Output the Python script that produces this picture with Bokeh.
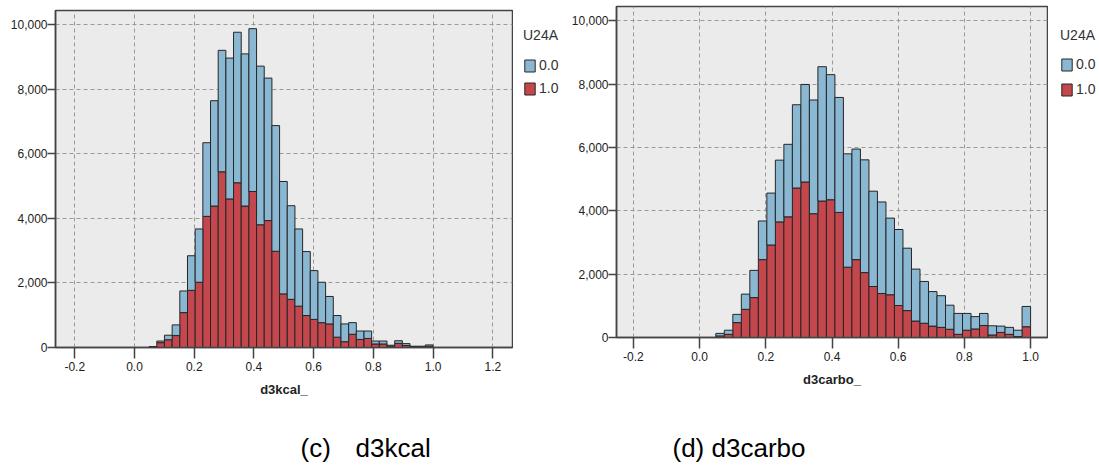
import numpy as np
from bokeh.plotting import figure
from bokeh.layouts import row, column
from bokeh.models import (ColumnDataSource, Range1d, FixedTicker, NumeralTickFormatter,
                          Legend, LegendItem, Label)
from bokeh.embed import file_html
from bokeh.resources import INLINE

# ---------------- data ----------------
group_title = "U24A"
group_labels = ["0.0", "1.0"]

bin_start = 0.049
bin_width = 0.0257

# (c) d3kcal : counts per bin for U24A = 0.0 and U24A = 1.0
kcal_n0 = [15, 50, 140, 330, 670, 1070, 1650, 2280, 3260, 3760, 4360, 4660, 4710, 5040, 4910,
           4410, 3890, 3480, 2900, 2390, 1980, 1510, 1250, 850, 670, 550, 360, 260, 230, 90,
           90, 30, 80, 60, 20, 20, 40]
kcal_n1 = [15, 150, 240, 370, 1080, 1770, 2020, 4060, 4380, 5440, 4600, 5100, 4380, 4830, 3800,
           3930, 2980, 1660, 1490, 1280, 990, 870, 770, 730, 320, 180, 410, 250, 280, 110,
           110, 40, 130, 60, 20, 20, 40]

# (d) d3carbo
carbo_n0 = [80, 130, 260, 480, 860, 1220, 1640, 1950, 2290, 2630, 3080, 3590, 4240, 3950, 3630,
            3580, 3490, 3560, 3010, 2890, 2420, 2400, 1970, 1640, 1320, 1090, 1000, 760, 660, 530,
            390, 380, 290, 200, 220, 200, 640]
carbo_n1 = [50, 100, 470, 890, 1260, 2460, 2920, 3650, 3810, 4720, 4910, 3910, 4310, 4350, 3950,
            2220, 2460, 2050, 1610, 1390, 1350, 1010, 850, 520, 450, 360, 320, 260, 100, 230,
            270, 380, 80, 160, 100, 30, 340]

kcal_xticks = [-0.2, 0.0, 0.2, 0.4, 0.6, 0.8, 1.0, 1.2]
carbo_xticks = [-0.2, 0.0, 0.2, 0.4, 0.6, 0.8, 1.0]
yticks = [0, 2000, 4000, 6000, 8000, 10000]

captions = ["(c)", "d3kcal", "(d) d3carbo"]

# ---------------- style ----------------
BLUE = "#8ab8d3"
RED = "#c4474d"
EDGE = "#262626"
FONT = "Liberation Sans"
TOP_H = 402


def make_chart(n0, n1, xticks, xlabel, width, mb_left, mb_right, mb_top,
               frame_h, xr, yr):
    n = len(n0)
    centers = [bin_start + bin_width * (i + 0.5) for i in range(n)]
    src = ColumnDataSource(dict(x=centers, n0=n0, n1=n1))
    p = figure(width=width, height=TOP_H, output_backend="svg", toolbar_location=None,
               x_range=Range1d(*xr), y_range=Range1d(*yr),
               min_border_left=mb_left, min_border_right=mb_right,
               min_border_top=mb_top, min_border_bottom=TOP_H - mb_top - frame_h)
    p.background_fill_color = "#ebebeb"
    p.border_fill_color = "white"
    p.outline_line_color = "#444444"
    p.outline_line_width = 1.5

    p.vbar_stack(["n1", "n0"], x="x", width=bin_width, source=src,
                 fill_color=[RED, BLUE], line_color=EDGE, line_width=1)

    for g in (p.xgrid, p.ygrid):
        g.grid_line_color = "#9a9a9a"
        g.grid_line_dash = "4 3"
        g.grid_line_width = 1
    p.xaxis.ticker = FixedTicker(ticks=xticks)
    p.yaxis.ticker = FixedTicker(ticks=yticks)
    p.xgrid.ticker = FixedTicker(ticks=xticks)
    p.ygrid.ticker = FixedTicker(ticks=yticks)
    p.xaxis.formatter = NumeralTickFormatter(format="0.0")
    p.yaxis.formatter = NumeralTickFormatter(format="0,0")

    for ax in (p.xaxis, p.yaxis):
        ax.axis_line_color = "#444444"
        ax.axis_line_width = 1.5
        ax.major_tick_line_color = "#444444"
        ax.major_tick_line_width = 1.5
        ax.minor_tick_line_color = None
        ax.major_tick_in = 0
        ax.major_label_text_font = FONT
        ax.major_label_text_font_size = "12px"
        ax.major_label_text_color = "#222222"
    p.xaxis.major_tick_out = 11
    p.xaxis.major_label_standoff = 3
    p.yaxis.major_tick_out = 8
    p.yaxis.major_label_standoff = 0
    p.xaxis.axis_label = xlabel
    p.xaxis.axis_label_text_font = FONT
    p.xaxis.axis_label_text_font_style = "bold"
    p.xaxis.axis_label_text_font_size = "13px"
    p.xaxis.axis_label_text_color = "#222222"
    p.xaxis.axis_label_standoff = 8
    return p


def make_legend_panel(width, loc, gap, step):
    lf = figure(width=width, height=TOP_H, output_backend="svg", toolbar_location=None,
                x_range=Range1d(0, 1), y_range=Range1d(0, 1),
                x_axis_type=None, y_axis_type=None,
                min_border_left=0, min_border_right=0, min_border_top=0, min_border_bottom=0)
    lf.outline_line_color = None
    lf.grid.visible = False
    lf.background_fill_color = "white"
    lf.border_fill_color = "white"
    # legend proxies: one point each, placed outside the visible range
    proxy = ColumnDataSource(dict(x=[5.0], top=[0.0]))
    r0 = lf.vbar(x="x", top="top", width=0.1, source=proxy, fill_color=BLUE,
                 line_color=EDGE, line_width=1)
    r1 = lf.vbar(x="x", top="top", width=0.1, source=proxy, fill_color=RED,
                 line_color=EDGE, line_width=1)
    legend = Legend(items=[LegendItem(label=group_labels[0], renderers=[r0]),
                           LegendItem(label=group_labels[1], renderers=[r1])],
                    title=group_title, location=loc, orientation="vertical",
                    glyph_width=13, glyph_height=15, label_height=15, label_standoff=3,
                    spacing=step - 15, padding=0, margin=0, title_standoff=gap,
                    border_line_color=None, background_fill_alpha=0,
                    label_text_font=FONT, label_text_font_size="14px",
                    label_text_color="#333333",
                    title_text_font=FONT, title_text_font_size="14px",
                    title_text_font_style="normal", title_text_color="#333333")
    lf.add_layout(legend, "center")
    return lf


p1 = make_chart(kcal_n0, kcal_n1, kcal_xticks, "d3kcal_",
                width=513, mb_left=55, mb_right=1, mb_top=10, frame_h=337,
                xr=(-0.2646, 1.266), yr=(0, 10433))
l1 = make_legend_panel(55, (10, 306), 14, 22)
p2 = make_chart(carbo_n0, carbo_n1, carbo_xticks, "d3carbo_",
                width=480, mb_left=45, mb_right=1, mb_top=6, frame_h=331,
                xr=(-0.251, 1.051), yr=(0, 10452))
l2 = make_legend_panel(51, (12, 305), 13, 24)

cap_h = 466 - TOP_H
cap = figure(width=1099, height=cap_h, output_backend="svg", toolbar_location=None,
             x_range=Range1d(0, 1099), y_range=Range1d(0, cap_h),
             x_axis_type=None, y_axis_type=None,
             min_border_left=0, min_border_right=0, min_border_top=0, min_border_bottom=0)
cap.outline_line_color = None
cap.grid.visible = False
cap.background_fill_color = "white"
cap.border_fill_color = "white"
for txt, xpos in zip(captions, [300, 355, 672]):
    cap.add_layout(Label(x=xpos, y=19, text=txt, text_font=FONT, text_font_size="26px",
                         text_color="black", text_baseline="alphabetic", text_align="left"))

layout = column(row(column(p1), column(l1), column(p2), column(l2)), cap)
open("out.html", "w").write(file_html(layout, INLINE))
